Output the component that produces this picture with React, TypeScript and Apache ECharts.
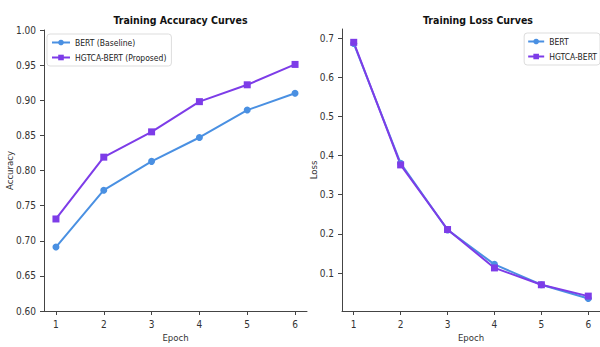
import React, { useEffect, useRef } from "react";
import * as echarts from "echarts";

const epochs = [1, 2, 3, 4, 5, 6];
const accBert = [0.691, 0.772, 0.813, 0.847, 0.886, 0.91];
const accHgtca = [0.731, 0.819, 0.855, 0.898, 0.922, 0.951];
const lossBert = [0.686, 0.38, 0.21, 0.122, 0.07, 0.035];
const lossHgtca = [0.689, 0.376, 0.211, 0.113, 0.07, 0.041];
const lossTicks = [0.1, 0.2, 0.3, 0.4, 0.5, 0.6, 0.7];

const BLUE = "#4A90E2";
const PURPLE = "#7D3CE8";
const FONT = "'DejaVu Sans Condensed', 'DejaVu Sans', sans-serif";
const AXIS = "#444";

export default function App() {
  const ref = useRef<HTMLDivElement>(null);
  useEffect(() => {
    if (!ref.current) return;
    const chart = echarts.init(ref.current, null, { renderer: "svg" });
    const pairs = (ys: number[]) => epochs.map((e, i) => [e, ys[i]]);
    const xAxisBase = (gridIndex: number) => ({
      type: "value" as const,
      gridIndex,
      min: 0.75,
      max: 6.25,
      name: "Epoch",
      nameLocation: "middle" as const,
      nameGap: 21,
      nameMoveOverlap: false,
      nameTextStyle: { fontFamily: FONT, fontSize: 9.5, color: "#333" },
      axisLine: { show: true, lineStyle: { color: AXIS, width: 1 } },
      axisTick: { show: true, length: 4, customValues: epochs, lineStyle: { color: AXIS } },
      axisLabel: { customValues: epochs, fontFamily: FONT, fontSize: 10, color: "#333", margin: 8 },
      splitLine: { show: false },
    });
    const series = (name: string, xi: number, data: number[], color: string, symbol: string) => ({
      type: "line" as const,
      name,
      xAxisIndex: xi,
      yAxisIndex: xi,
      data: pairs(data),
      symbol,
      symbolSize: 7,
      lineStyle: { color, width: 2 },
      itemStyle: { color },
      z: 3,
    });
    const legendBase = {
      orient: "vertical" as const,
      itemWidth: 18,
      itemHeight: 7,
      itemGap: 6,
      borderColor: "#ddd",
      borderWidth: 1,
      borderRadius: 3,
      backgroundColor: "#fff",
      textStyle: { fontFamily: FONT, fontSize: 8.5, color: "#222" },
    };
    chart.setOption({
      animation: false,
      backgroundColor: "#fff",
      title: [
        {
          text: "Training Accuracy Curves",
          left: 175.5,
          top: 9,
          textAlign: "center",
          textStyle: { fontFamily: FONT, fontSize: 10.5, fontWeight: "bold", color: "#111" },
        },
        {
          text: "Training Loss Curves",
          left: 473,
          top: 9,
          textAlign: "center",
          textStyle: { fontFamily: FONT, fontSize: 10.5, fontWeight: "bold", color: "#111" },
        },
      ],
      legend: [
        {
          ...legendBase,
          left: 47,
          top: 34,
          padding: [4, 5, 4, 4],
          data: ["BERT (Baseline)", "HGTCA-BERT (Proposed)"],
        },
        {
          ...legendBase,
          right: 0,
          top: 33,
          itemWidth: 16,
          padding: [4, 3, 4, 3],
          data: ["BERT", "HGTCA-BERT"],
        },
      ],
      grid: [
        { left: 44, right: 293, top: 30, bottom: 32, containLabel: false },
        { left: 342, right: -4, top: 29, bottom: 32, containLabel: false },
      ],
      xAxis: [xAxisBase(0), xAxisBase(1)],
      yAxis: [
        {
          type: "value",
          gridIndex: 0,
          min: 0.6,
          max: 1.0,
          interval: 0.05,
          name: "Accuracy",
          nameLocation: "middle",
          nameGap: 30,
          nameMoveOverlap: false,
          nameTextStyle: { fontFamily: FONT, fontSize: 9.5, color: "#333" },
          axisLine: { show: true, lineStyle: { color: AXIS, width: 1 } },
          axisTick: { show: true, length: 4, lineStyle: { color: AXIS } },
          axisLabel: {
            fontFamily: FONT,
            fontSize: 10,
            color: "#333",
            margin: 8,
            formatter: (v: number) => v.toFixed(2),
          },
          splitLine: { show: false },
        },
        {
          type: "value",
          gridIndex: 1,
          min: 0.003,
          max: 0.723,
          name: "Loss",
          nameLocation: "middle",
          nameGap: 24,
          nameMoveOverlap: false,
          nameTextStyle: { fontFamily: FONT, fontSize: 9.5, color: "#333" },
          axisLine: { show: true, lineStyle: { color: AXIS, width: 1 } },
          axisTick: { show: true, length: 4, customValues: lossTicks, lineStyle: { color: AXIS } },
          axisLabel: {
            customValues: lossTicks,
            fontFamily: FONT,
            fontSize: 10,
            color: "#333",
            margin: 8,
            formatter: (v: number) => v.toFixed(1),
          },
          splitLine: { show: false },
        },
      ],
      series: [
        series("BERT (Baseline)", 0, accBert, BLUE, "circle"),
        series("HGTCA-BERT (Proposed)", 0, accHgtca, PURPLE, "rect"),
        series("BERT", 1, lossBert, BLUE, "circle"),
        series("HGTCA-BERT", 1, lossHgtca, PURPLE, "rect"),
      ],
    });
    return () => chart.dispose();
  }, []);
  return <div ref={ref} style={{ width: 600, height: 347, position: "fixed", left: 0, top: 0 }} />;
}
